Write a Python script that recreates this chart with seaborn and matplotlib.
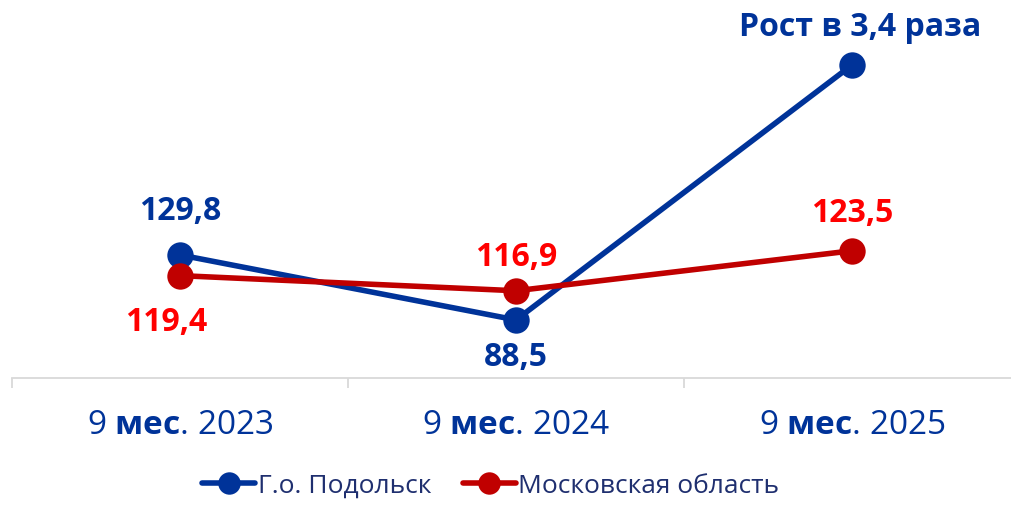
import matplotlib
matplotlib.use("Agg")
import matplotlib.pyplot as plt
import seaborn as sns
import pandas as pd

periods = ["2023", "2024", "2025"]
podolsk = [129.8, 88.5, 250.5]
mo = [119.4, 116.9, 123.5]
podolsk_labels = ["129,8", "88,5", "Рост в 3,4 раза"]
mo_labels = ["119,4", "116,9", "123,5"]

sns.set_style("white")
plt.rcParams["font.family"] = ["Open Sans", "DejaVu Sans"]
plt.rcParams["mathtext.fontset"] = "custom"
plt.rcParams["mathtext.rm"] = "Open Sans"
plt.rcParams["mathtext.bf"] = "Open Sans:bold"

blue = "#003399"
red_line = "#C00000"
red_txt = "#FF0000"

fig = plt.figure(figsize=(10.12, 5.11), dpi=100)
ax = fig.add_axes([12 / 1012, 1 - 378 / 511, 1008 / 1012, 378 / 511])
ax2 = ax.twinx()

x = list(range(len(periods)))
df = pd.DataFrame({"x": x, "pod": podolsk, "mo": mo})

sns.lineplot(data=df, x="x", y="pod", ax=ax, color=blue, lw=4, marker="o",
             markersize=19, markeredgewidth=0, label="Г.о. Подольск", legend=False, zorder=3)
sns.lineplot(data=df, x="x", y="mo", ax=ax2, color=red_line, lw=4, marker="o",
             markersize=19, markeredgewidth=0, label="Московская область", legend=False, zorder=3)

ax.set_xlim(-0.5, 2.5)
ax.set_ylim(51.6, 291.8)
ax2.set_ylim(102.5, 164.9)

# data labels
pod_off = [(0, 31), (0, -27), (6, 27)]
for xi, v, lab, off in zip(x, podolsk, podolsk_labels, pod_off):
    ax.annotate(lab, (xi, v), xytext=off, textcoords="offset points", ha="center",
                va="center", color=blue, fontsize=23, fontweight="bold")
mo_off = [(-10, -34), (0, 24), (0, 27)]
for xi, v, lab, off in zip(x, mo, mo_labels, mo_off):
    ax2.annotate(lab, (xi, v), xytext=off, textcoords="offset points", ha="center",
                 va="center", color=red_txt, fontsize=23, fontweight="bold")

for a in (ax, ax2):
    for s in ["top", "right", "left"]:
        a.spines[s].set_visible(False)
    a.set_yticks([])
    a.set_ylabel("")
    a.set_xlabel("")
ax2.spines["bottom"].set_visible(False)
ax.spines["bottom"].set_color("#D9D9D9")
ax.spines["bottom"].set_linewidth(1.3)

ax.set_xticks(x)
ax.set_xticklabels([r"9 $\mathbf{мес}$. " + p for p in periods], fontsize=24, color=blue)
ax.tick_params(axis="x", which="major", length=0, pad=22)
ax.set_xticks([-0.5, 0.5, 1.5, 2.5], minor=True)
ax.tick_params(axis="x", which="minor", bottom=True, length=7, color="#D9D9D9", width=1.3)

h1, l1 = ax.get_legend_handles_labels()
h2, l2 = ax2.get_legend_handles_labels()
leg = fig.legend(h1 + h2, l1 + l2, loc="lower center", bbox_to_anchor=(0.485, -0.012), ncol=2,
                 frameon=False, fontsize=19, handlelength=2.0, handletextpad=0.1,
                 columnspacing=1.2, markerscale=0.85, borderpad=0.2)
for t in leg.get_texts():
    t.set_color("#1F2F6F")

fig.savefig("out.png", dpi=100)
